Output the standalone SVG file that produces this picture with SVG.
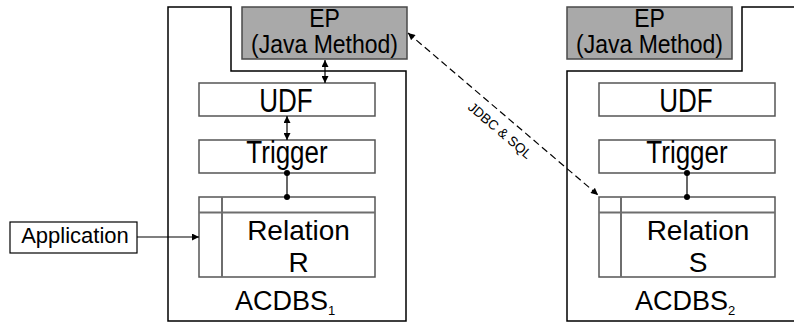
<svg xmlns="http://www.w3.org/2000/svg" width="794" height="326" viewBox="0 0 794 326">
<defs>
<marker id="ah" viewBox="0 0 10 10" refX="10" refY="5" markerWidth="8" markerHeight="7" markerUnits="userSpaceOnUse" orient="auto-start-reverse">
<path d="M0,0 L10,5 L0,10 z" fill="#000"/>
</marker>
<marker id="dot" viewBox="0 0 10 10" refX="5" refY="5" markerWidth="6" markerHeight="6" markerUnits="userSpaceOnUse">
<circle cx="5" cy="5" r="5" fill="#000"/>
</marker>
</defs>
<style>
.outer{fill:#fff;stroke:#000;stroke-width:1.5}
.ep{fill:#a9a9a9;stroke:#4a4a4a;stroke-width:1.5}
.box{fill:#fff;stroke:#555;stroke-width:1.5}
.grid{fill:none;stroke:#6e6e6e;stroke-width:2}
.t{font-family:"Liberation Sans",Arial,sans-serif;fill:#000;text-anchor:middle}
.big{font-size:28px}
.comp{font-size:26px}
.mid{font-size:23px}
.lab{font-family:"Liberation Sans",Arial,sans-serif;fill:#000;font-size:27px}
.con{stroke:#000;stroke-width:1.2;fill:none}
</style>
<rect width="794" height="326" fill="#fff"/>

<g id="acdbs1">
<path class="outer" d="M168,7 H231 V71 H406 V321 H168 Z"/>
<text class="lab" x="235" y="310">ACDBS<tspan font-size="13" dy="5">1</tspan></text>
</g>
<g id="ep1">
<rect class="ep" x="242" y="7" width="165" height="52"/>
<text class="t mid" transform="translate(324.5,27) scale(1,1.15)">EP</text>
<text class="t mid" transform="translate(324.5,53) scale(1,1.15)">(Java Method)</text>
</g>
<g id="udf1">
<rect class="box" x="199" y="83" width="176" height="33"/>
<text class="t comp" transform="translate(286,112) scale(1,1.3)">UDF</text>
</g>
<g id="trigger1">
<rect class="box" x="199" y="140" width="176" height="33"/>
<text class="t comp" transform="translate(287,163) scale(1,1.2)">Trigger</text>
</g>
<g id="relationR">
<rect class="box" x="199" y="197" width="176" height="80"/>
<path class="grid" d="M199,212.5 H375 M222,197 V277"/>
<text class="t big" x="298.5" y="240">Relation</text>
<text class="t big" x="298.5" y="272">R</text>
</g>

<g id="acdbs2">
<path class="outer" d="M800,7 H742 V71 H567 V321 H800"/>
<text class="lab" x="635" y="310">ACDBS<tspan font-size="13" dy="5">2</tspan></text>
</g>
<g id="ep2">
<rect class="ep" x="567" y="7" width="165" height="52"/>
<text class="t mid" transform="translate(649.5,27) scale(1,1.15)">EP</text>
<text class="t mid" transform="translate(649.5,53) scale(1,1.15)">(Java Method)</text>
</g>
<g id="udf2">
<rect class="box" x="599" y="83" width="176" height="33"/>
<text class="t comp" transform="translate(686,112) scale(1,1.3)">UDF</text>
</g>
<g id="trigger2">
<rect class="box" x="599" y="140" width="176" height="33"/>
<text class="t comp" transform="translate(687,163) scale(1,1.2)">Trigger</text>
</g>
<g id="relationS">
<rect class="box" x="599" y="197" width="176" height="80"/>
<path class="grid" d="M599,212.5 H775 M621,197 V277"/>
<text class="t big" x="698" y="240">Relation</text>
<text class="t big" x="698" y="272">S</text>
</g>

<g id="application">
<rect x="10" y="222" width="127" height="31" fill="#fff" stroke="#000" stroke-width="1.2"/>
<text class="t" x="75" y="243" font-size="22">Application</text>
</g>

<g id="connectors">
<line class="con" x1="325" y1="60" x2="325" y2="83" marker-start="url(#ah)" marker-end="url(#ah)"/>
<line class="con" x1="287" y1="116" x2="287" y2="140" marker-start="url(#ah)" marker-end="url(#ah)"/>
<line class="con" x1="287" y1="173" x2="287" y2="197" marker-start="url(#dot)" marker-end="url(#dot)"/>
<line class="con" x1="687" y1="173" x2="687" y2="197" marker-start="url(#dot)" marker-end="url(#dot)"/>
<line class="con" x1="137" y1="237" x2="199" y2="237" marker-end="url(#ah)"/>
<line class="con" x1="408" y1="33" x2="598" y2="195" stroke-dasharray="7 4" marker-start="url(#ah)" marker-end="url(#ah)"/>
<text class="t" font-size="13.5" transform="translate(497,134) rotate(40.5)">JDBC &amp; SQL</text>
</g>
</svg>
